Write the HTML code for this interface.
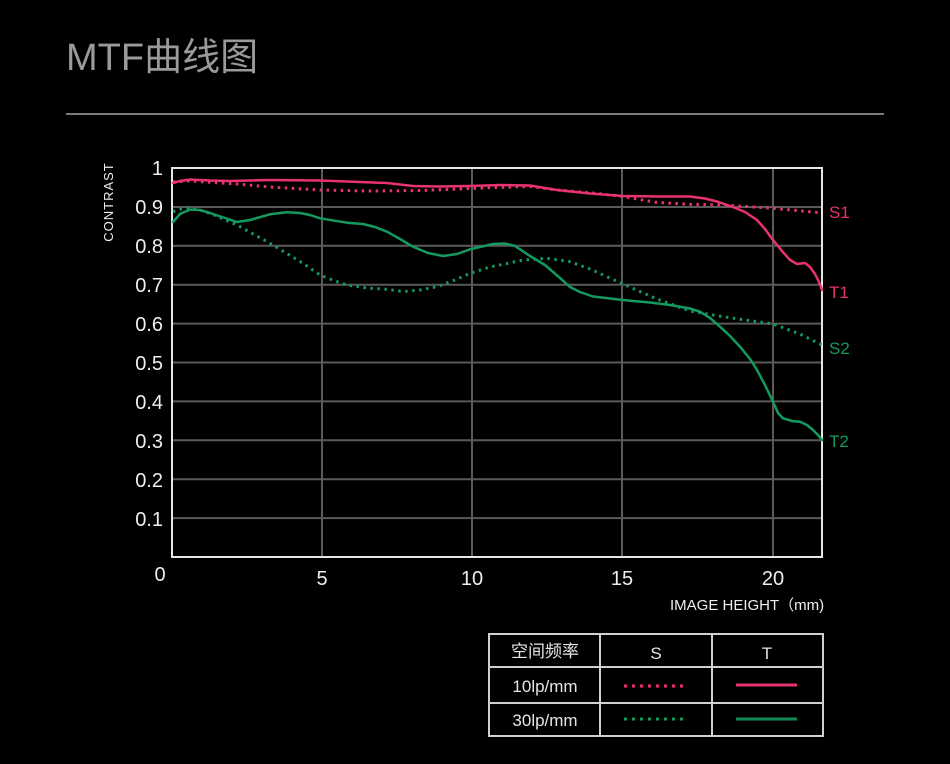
<!DOCTYPE html>
<html>
<head>
<meta charset="utf-8">
<style>
  html,body{margin:0;padding:0;background:#000;}
  body{width:950px;height:764px;overflow:hidden;}
  svg{display:block;}
  text{font-family:"Liberation Sans","Noto Sans CJK SC",sans-serif;}
</style>
</head>
<body>
<svg width="950" height="764" viewBox="0 0 950 764" xmlns="http://www.w3.org/2000/svg">
  <rect x="0" y="0" width="950" height="764" fill="#000"/>
  <!-- Title -->
  <text x="66" y="70" font-size="38" fill="#9a9a9a">MTF曲线图</text>
  <line x1="66" y1="114" x2="884" y2="114" stroke="#7a7a7a" stroke-width="2"/>

  <!-- Grid -->
  <g stroke="#5a5a5a" stroke-width="2">
    <line x1="172" y1="207" x2="822" y2="207"/>
    <line x1="172" y1="245.8" x2="822" y2="245.8"/>
    <line x1="172" y1="284.7" x2="822" y2="284.7"/>
    <line x1="172" y1="323.6" x2="822" y2="323.6"/>
    <line x1="172" y1="362.5" x2="822" y2="362.5"/>
    <line x1="172" y1="401.4" x2="822" y2="401.4"/>
    <line x1="172" y1="440.3" x2="822" y2="440.3"/>
    <line x1="172" y1="479.2" x2="822" y2="479.2"/>
    <line x1="172" y1="518.1" x2="822" y2="518.1"/>
    <line x1="322" y1="168" x2="322" y2="557"/>
    <line x1="472" y1="168" x2="472" y2="557"/>
    <line x1="622" y1="168" x2="622" y2="557"/>
    <line x1="773" y1="168" x2="773" y2="557"/>
  </g>
  <rect x="172" y="168" width="650" height="389" fill="none" stroke="#e6e6e6" stroke-width="2"/>

  <!-- Y axis labels -->
  <g font-size="20" fill="#eeeeee" text-anchor="end">
    <text x="163" y="175">1</text>
    <text x="163" y="214">0.9</text>
    <text x="163" y="253">0.8</text>
    <text x="163" y="292">0.7</text>
    <text x="163" y="331">0.6</text>
    <text x="163" y="370">0.5</text>
    <text x="163" y="409">0.4</text>
    <text x="163" y="448">0.3</text>
    <text x="163" y="487">0.2</text>
    <text x="163" y="526">0.1</text>
  </g>
  <text x="0" y="0" font-size="13" fill="#eeeeee" letter-spacing="1" text-anchor="middle" transform="translate(113,202) rotate(-90)">CONTRAST</text>

  <!-- X axis labels -->
  <g font-size="20" fill="#eeeeee" text-anchor="middle">
    <text x="160" y="581">0</text>
    <text x="322" y="585">5</text>
    <text x="472" y="585">10</text>
    <text x="622" y="585">15</text>
    <text x="773" y="585">20</text>
  </g>
  <text x="670" y="610" font-size="15" fill="#eeeeee">IMAGE HEIGHT（mm)</text>

  <!-- Curves -->
  <g fill="none" stroke-linejoin="round" stroke-linecap="round">
    <!-- S1 dotted pink -->
    <polyline stroke="#e8336e" stroke-width="3" stroke-dasharray="2.5 4.5" stroke-linecap="butt"
      points="173,182 190,181 237,184 270,187 320,190 370,191 420,190.5 470,188.5 500,187.3 530,186.5 557,190 590,192.7 623,196.5 657,202.5 690,204.3 723,205 773,208.3 820,212.7"/>
    <!-- T1 solid pink -->
    <polyline stroke="#e8336e" stroke-width="2.5"
      points="173,183 180,181 190,179.5 210,180.5 230,181 270,180 320,180.5 360,182 387,183 413,186 440,186.5 470,186 500,185 530,185.5 545,188 557,190 590,193.5 623,196 660,196.5 690,196.5 705,198.5 717,201.5 733,207 745,212 757,220 765,229 773,240 782,251 790,260 797,264 801,263.5 805,263 810,267 815,274 819,282 822,290"/>
    <!-- S2 dotted green -->
    <polyline stroke="#139a5e" stroke-width="3" stroke-dasharray="2.5 4.5" stroke-linecap="butt"
      points="173,211.7 180,209 190,208.3 200,210 210,213.3 237,225 270,243.3 303,263.3 320,275 335,281 347,285 367,288 387,289.3 403,291.5 420,290 437,286.7 455,280 470,273.3 490,267 500,265 523,260 547,258.3 570,261.7 590,269 623,284 657,299 690,311 723,316.7 773,324 800,334 822,345"/>
    <!-- T2 solid green -->
    <polyline stroke="#139a5e" stroke-width="2.5"
      points="173,222 180,214 190,209.5 200,210 210,213 225,218 237,222 250,220 270,214.3 287,212.3 300,213 310,215 320,218.3 347,222.7 363,224 375,227 387,231.7 400,239 413,246.7 428,253 443,256 457,254 470,249.3 493,244 505,243.5 515,246 530,256 545,265 560,278 570,287 580,292 593,296.5 623,300 650,302.5 670,305 690,308.5 700,311.7 710,318 720,326.7 730,336 740,346.7 750,359 757,370 765,385 773,401.7 778,413 783,418.3 792,421 800,421.7 807,425 813,430 818,435 822,440"/>
  </g>

  <!-- Curve labels -->
  <g font-size="17">
    <text x="829" y="218" fill="#e8336e">S1</text>
    <text x="829" y="298" fill="#e8336e">T1</text>
    <text x="829" y="354" fill="#139a5e">S2</text>
    <text x="829" y="447" fill="#139a5e">T2</text>
  </g>

  <!-- Legend table -->
  <g stroke="#d0d0d0" stroke-width="2" fill="none">
    <rect x="489" y="634" width="334" height="102"/>
    <line x1="489" y1="667" x2="823" y2="667"/>
    <line x1="489" y1="703" x2="823" y2="703"/>
    <line x1="600" y1="634" x2="600" y2="736"/>
    <line x1="712" y1="634" x2="712" y2="736"/>
  </g>
  <g font-size="17" fill="#e6e6e6" text-anchor="middle">
    <text x="545" y="657">空间频率</text>
    <text x="656" y="659">S</text>
    <text x="767" y="659">T</text>
    <text x="545" y="692">10lp/mm</text>
    <text x="545" y="726">30lp/mm</text>
  </g>
  <line x1="624" y1="686" x2="688" y2="686" stroke="#e8336e" stroke-width="3" stroke-dasharray="3 5"/>
  <line x1="624" y1="719" x2="688" y2="719" stroke="#139a5e" stroke-width="3" stroke-dasharray="3 5"/>
  <line x1="736" y1="685" x2="797" y2="685" stroke="#e8336e" stroke-width="3"/>
  <line x1="736" y1="719" x2="797" y2="719" stroke="#0f8a52" stroke-width="3"/>
</svg>
</body>
</html>
